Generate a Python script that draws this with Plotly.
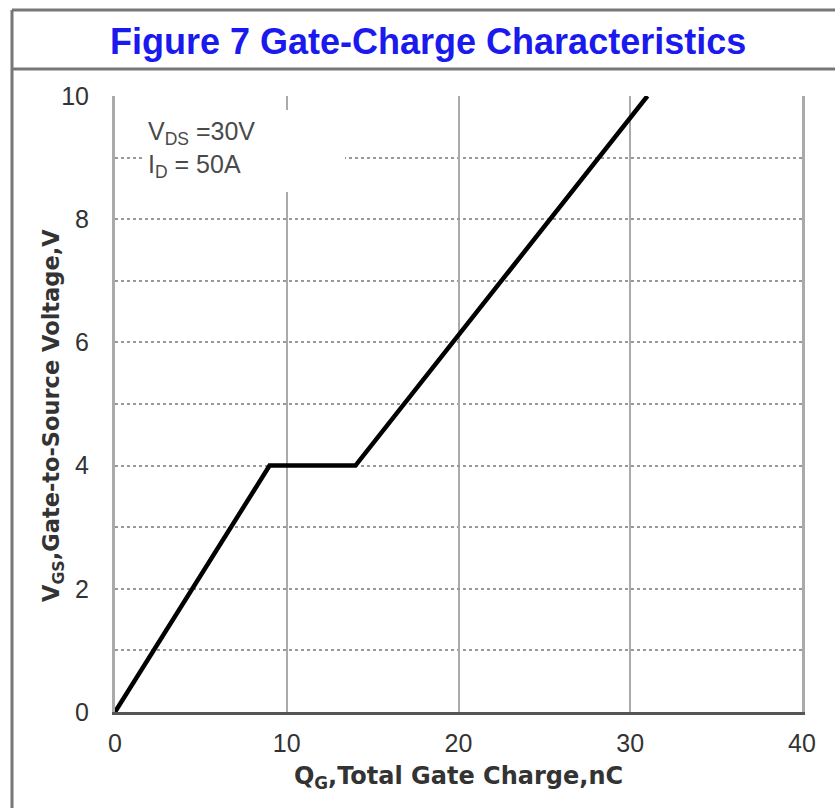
import plotly.graph_objects as go

qg = [0, 9, 14, 31]
vgs = [0, 4, 4, 10]

x_ticks = [0, 10, 20, 30, 40]
y_ticks = [0, 2, 4, 6, 8, 10]

title_text = "Figure 7 Gate-Charge Characteristics"
x_title = "<b>Q<sub>G</sub>,Total Gate Charge,nC</b>"
y_title = "<b>V<sub>GS</sub>,Gate-to-Source Voltage,V</b>"
note_text = "V<sub>DS</sub> =30V<br>I<sub>D</sub> = 50A"

W, H = 835, 808
L, R, T, B = 115, 33, 96, 96
pw, ph = W - L - R, H - T - B

def px(xp):
    return (xp - L) / pw

def py(yp):
    return (H - B - yp) / ph

fig = go.Figure()
fig.add_trace(go.Scatter(x=qg, y=vgs, mode="lines",
                         line=dict(color="black", width=4.5),
                         showlegend=False, hoverinfo="skip"))

font = "Liberation Sans, Arial, sans-serif"
bold_font = "DejaVu Sans, sans-serif"

fig.update_layout(
    width=W, height=H,
    margin=dict(l=L, r=R, t=T, b=B),
    paper_bgcolor="white", plot_bgcolor="white",
    font=dict(family=font, color="#333333"),
    xaxis=dict(range=[0, 40], tickvals=x_ticks, showgrid=True,
               gridcolor="#aaaaaa", gridwidth=2,
               showline=True, linecolor="#555555", linewidth=3, mirror=False,
               zeroline=False, ticks="", tickfont=dict(size=25, color="#333333"),
               ticklabelstandoff=7,
               title=dict(text=x_title, font=dict(size=24, color="#333333", family=bold_font), standoff=12)),
    xaxis2=dict(overlaying="x", range=[0, 40], showline=True, linecolor="#b0b0b0",
                linewidth=3, side="top", showticklabels=False, showgrid=False,
                zeroline=False, ticks=""),
    yaxis=dict(range=[0, 10], tickvals=y_ticks, showgrid=True,
               gridcolor="#999999", gridwidth=1.5, griddash="dot",
               minor=dict(dtick=1, showgrid=True, gridcolor="#999999", gridwidth=1.5, griddash="dot"),
               showline=True, linecolor="#aaaaaa", linewidth=3, mirror=True,
               zeroline=False, ticks="", tickfont=dict(size=25, color="#333333"),
               ticklabelstandoff=18),
)

# y axis title placed as rotated text
fig.add_annotation(xref="paper", yref="paper", x=px(53), y=py(416),
                   xanchor="center", yanchor="middle", showarrow=False,
                   textangle=-90, text=y_title,
                   font=dict(size=22.5, color="#333333", family=bold_font))

# white box behind note (covers gridlines)
fig.add_annotation(xref="paper", yref="paper", x=px(142), y=py(110),
                   xanchor="left", yanchor="top", showarrow=False,
                   text=" ", width=203, height=82, bgcolor="white", borderpad=0,
                   borderwidth=0)

fig.add_annotation(xref="paper", yref="paper", x=px(146), y=py(149),
                   xanchor="left", yanchor="middle", align="left", showarrow=False,
                   text=note_text, font=dict(size=25, color="#4a4a4a", family=font))

# title
fig.add_annotation(xref="paper", yref="paper", x=px(428), y=py(41),
                   xanchor="center", yanchor="middle", showarrow=False,
                   text="<b>" + title_text + "</b>",
                   font=dict(size=36, color="#1a1aee", family=font))

# outer frame lines
frame = dict(color="#777777", width=3)
fig.add_shape(type="line", xref="paper", yref="paper", x0=px(12), x1=px(12),
              y0=py(812), y1=py(10), line=frame, layer="above")
fig.add_shape(type="line", xref="paper", yref="paper", x0=px(12), x1=px(840),
              y0=py(10), y1=py(10), line=frame, layer="above")
fig.add_shape(type="line", xref="paper", yref="paper", x0=px(12), x1=px(840),
              y0=py(69), y1=py(69), line=frame, layer="above")

fig.write_html("out.html", config={"displayModeBar": False},
               post_script="document.body.style.margin='0';")
